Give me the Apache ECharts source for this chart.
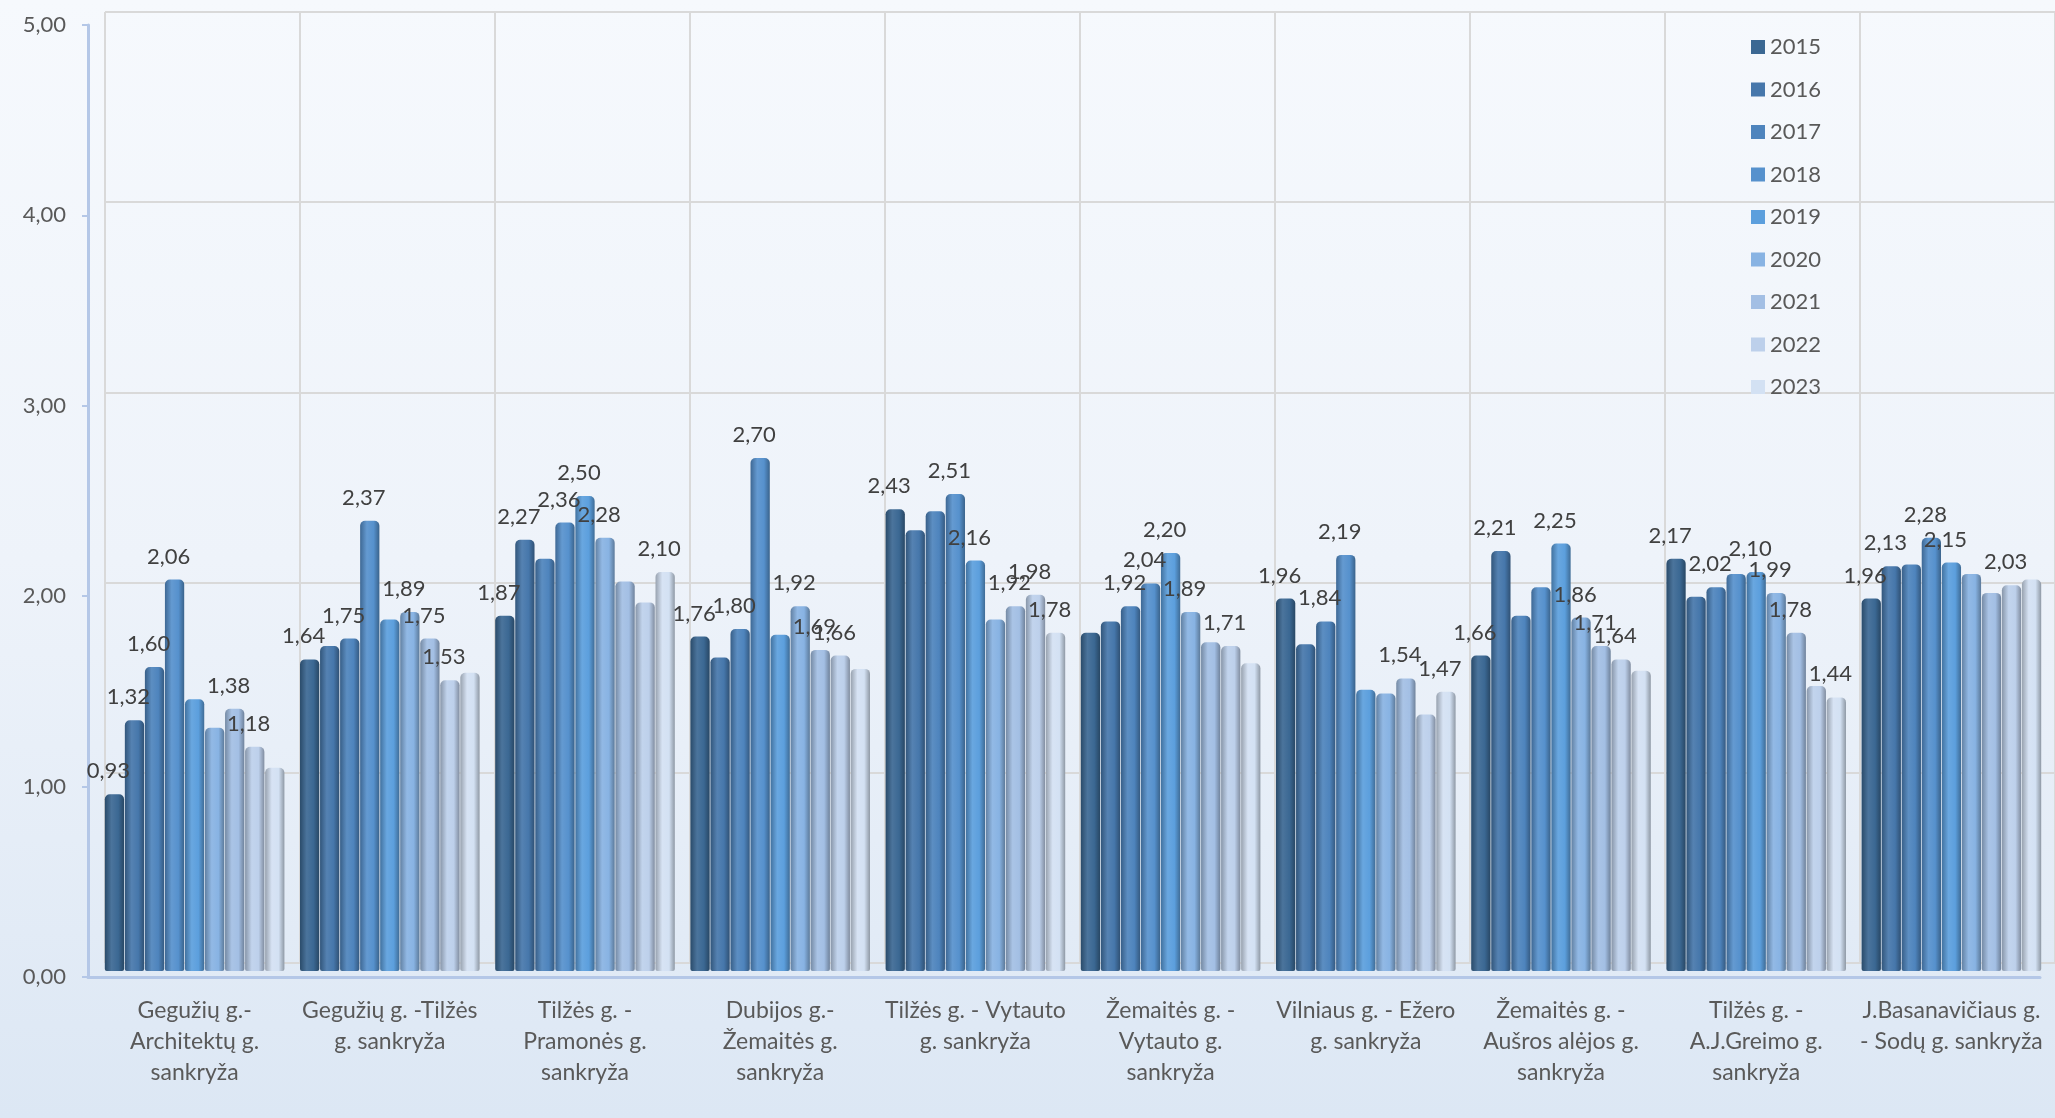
<!DOCTYPE html>
<html>
<head>
<meta charset="utf-8">
<script src="https://cdn.jsdelivr.net/npm/echarts@6/dist/echarts.min.js"></script>
<style>
html,body{margin:0;padding:0;}
body{background:linear-gradient(180deg,#F6F9FD 0%,#EEF3FA 50%,#DCE7F4 100%);}
#c{width:2055px;height:1118px;}
</style>
</head>
<body>
<div id="c"></div>
<script>
const years = ['2015','2016','2017','2018','2019','2020','2021','2022','2023'];
const categories = [
  'Gegužių g.-\nArchitektų g.\nsankryža',
  'Gegužių g. -Tilžės\ng. sankryža',
  'Tilžės g. -\nPramonės g.\nsankryža',
  'Dubijos g.-\nŽemaitės g.\nsankryža',
  'Tilžės g. - Vytauto\ng. sankryža',
  'Žemaitės g. -\nVytauto g.\nsankryža',
  'Vilniaus g. - Ežero\ng. sankryža',
  'Žemaitės g. -\nAušros alėjos g.\nsankryža',
  'Tilžės g. -\nA.J.Greimo g.\nsankryža',
  'J.Basanavičiaus g.\n- Sodų g. sankryža'
];
const yTicks = [0,1,2,3,4,5];

const v2015 = [0.93,1.64,1.87,1.76,2.43,1.78,1.96,1.66,2.17,1.96];
const v2016 = [1.32,1.71,2.27,1.65,2.32,1.84,1.72,2.21,1.97,2.13];
const v2017 = [1.60,1.75,2.17,1.80,2.42,1.92,1.84,1.87,2.02,2.14];
const v2018 = [2.06,2.37,2.36,2.70,2.51,2.04,2.19,2.02,2.09,2.28];
const v2019 = [1.43,1.85,2.50,1.77,2.16,2.20,1.48,2.25,2.10,2.15];
const v2020 = [1.28,1.89,2.28,1.92,1.85,1.89,1.46,1.86,1.99,2.09];
const v2021 = [1.38,1.75,2.05,1.69,1.92,1.73,1.54,1.71,1.78,1.99];
const v2022 = [1.18,1.53,1.94,1.66,1.98,1.71,1.35,1.64,1.50,2.03];
const v2023 = [1.07,1.57,2.10,1.59,1.78,1.62,1.47,1.58,1.44,2.06];

// which categories show a value label, per year
const lab2015 = [0,1,2,3,4,6,7,8,9];
const lab2016 = [0,2,7,9];
const lab2017 = [0,1,3,5,6,8];
const lab2018 = [0,1,2,3,4,5,6,9];
const lab2019 = [2,4,5,7,8,9];
const lab2020 = [1,2,3,5,7,8];
const lab2021 = [0,1,3,4,6,7,8];
const lab2022 = [0,1,3,4,5,7,9];
const lab2023 = [2,4,6,8];

const values = [v2015,v2016,v2017,v2018,v2019,v2020,v2021,v2022,v2023];
const labels = [lab2015,lab2016,lab2017,lab2018,lab2019,lab2020,lab2021,lab2022,lab2023];
const colors = ['#3B6893','#4677AB','#4E84BD','#5691CD','#5C9FDD','#88B3E3','#A3BFE4','#BDD0EB','#D3E1F3'];

function shade(hex, f){
  const n = parseInt(hex.slice(1),16);
  let r=(n>>16)&255, g=(n>>8)&255, b=n&255;
  if (f < 1){ r=Math.round(r*f); g=Math.round(g*f); b=Math.round(b*f); }
  else { const t=f-1; r=Math.round(r+(255-r)*t); g=Math.round(g+(255-g)*t); b=Math.round(b+(255-b)*t); }
  return 'rgb('+r+','+g+','+b+')';
}
function fmt(v){ return v.toFixed(2).replace('.', ','); }

const FONT = 'Lato';
const chart = echarts.init(document.getElementById('c'), null, {renderer:'canvas'});

const series = years.map((y, si) => ({
  name: y,
  type: 'bar',
  xAxisIndex: 0, yAxisIndex: 0,
  barGap: '4%',
  barCategoryGap: '8%',
  itemStyle: {
    borderRadius: [5,5,2,2],
    color: new echarts.graphic.LinearGradient(0,0,1,0,[
      {offset:0, color: shade(colors[si],0.72)},
      {offset:0.35, color: shade(colors[si],1.08)},
      {offset:0.7, color: colors[si]},
      {offset:1, color: shade(colors[si],0.68)}
    ])
  },
  label: {
    position: 'top', distance: 12, offset: [-6,0],
    color: '#404040', fontFamily: FONT, fontSize: 22,
    formatter: p => fmt(p.value)
  },
  data: values[si].map((v, ci) => ({ value: v, label: { show: labels[si].indexOf(ci) >= 0 } }))
}));

const option = {
  animation: false,
  textStyle: { fontFamily: FONT },
  grid: [
    { left: 97, top: 21, width: 1952, height: 950 },   // bars
    { left: 105, top: 12, width: 1952, height: 951 },  // back wall
    { left: 88, top: 25, width: 1952, height: 952 }    // front axes
  ],
  legend: {
    orient: 'vertical', left: 1746, top: 31,
    itemWidth: 14, itemHeight: 14, itemGap: 20.5, icon: 'rect',
    textStyle: { color: '#595959', fontSize: 22, fontFamily: FONT, lineHeight: 22 },
    data: years.map((y, i) => ({ name: y, itemStyle: { color: colors[i] } }))
  },
  xAxis: [
    { gridIndex: 0, type: 'category', data: categories,
      axisLine: {show:false}, axisTick: {show:false}, splitLine: {show:false},
      axisLabel: { color:'#595959', fontSize: 23, lineHeight: 31, fontFamily: FONT, margin: 24, interval: 0 } },
    { gridIndex: 1, type: 'category', data: categories, boundaryGap: true,
      axisLine: {show:false}, axisTick: {show:false}, axisLabel: {show:false},
      splitLine: { show: true, interval: 0, lineStyle: { color: '#D9D9D9', width: 2 } } },
    { gridIndex: 2, type: 'category', data: categories,
      axisLine: { show: true, lineStyle: { color: '#B4C7E7', width: 3 } },
      axisTick: {show:false}, axisLabel: {show:false}, splitLine: {show:false} }
  ],
  yAxis: [
    { gridIndex: 0, type: 'value', min: 0, max: 5, interval: 1, show: false },
    { gridIndex: 1, type: 'value', min: 0, max: 5, interval: 1,
      axisLine:{show:false}, axisTick:{show:false}, axisLabel:{show:false},
      splitLine: { show: true, lineStyle: { color: '#D9D9D9', width: 2 } } },
    { gridIndex: 2, type: 'value', min: 0, max: 5, interval: 1,
      axisLine: { show: true, lineStyle: { color: '#B4C7E7', width: 3 } },
      axisTick: { show: true, length: 6, lineStyle: { color: '#B4C7E7', width: 2 } },
      splitLine: {show:false},
      axisLabel: { color: '#595959', fontSize: 22, fontFamily: FONT, margin: 22,
        formatter: v => yTicks.indexOf(v) >= 0 ? fmt(v) : '' } }
  ],
  series: series
};
chart.setOption(option);
</script>
</body>
</html>
